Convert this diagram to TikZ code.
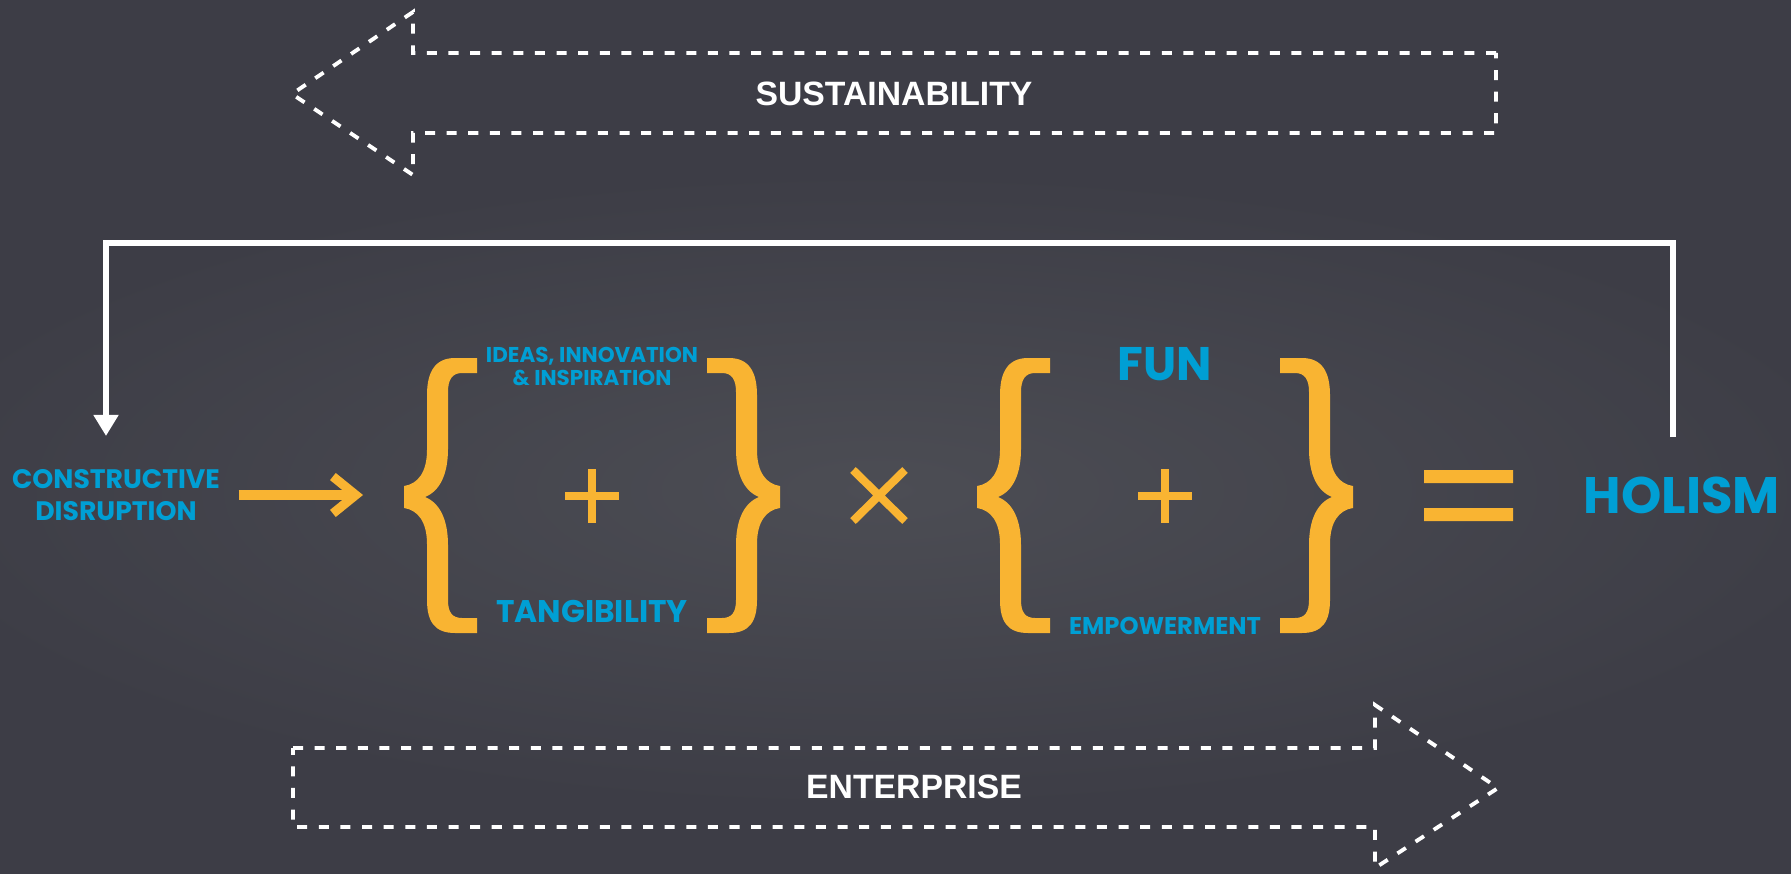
\documentclass[tikz,border=0pt]{standalone}
\usepackage{fontspec}
\usepackage{tikz}
\usetikzlibrary{positioning,arrows.meta}

\newfontfamily\labelfont{Liberation Sans}
\newfontfamily\termfont{Poppins}

\definecolor{bgdark}{RGB}{61,61,70}
\definecolor{bgglow}{RGB}{76,77,84}
\definecolor{termblue}{RGB}{0,159,212}
\definecolor{signorange}{RGB}{249,180,50}

\tikzset{
  flowarrow/.style={white, line width=1.1pt, dash pattern=on 2.85pt off 3.3pt, line join=miter},
  flowtext/.style={white, font=\labelfont\bfseries\fontsize{9.6}{11}\selectfont, anchor=base, inner sep=0pt},
  term/.style={termblue, font=\termfont\bfseries, anchor=base, inner sep=0pt, align=center},
  sign/.style={signorange, line width=2.3pt},
  feedback/.style={white, line width=1.7pt, -{Triangle[width=6.8pt,length=6pt]}},
  brace/.pic={
    \fill[signorange] (73,-139) -- (51,-139) .. controls (31,-139) and (23,-125) .. (23,-102)
      -- (23,-47) .. controls (23,-25) and (14,-13) .. (0,-11) -- (0,11)
      .. controls (14,13) and (23,25) .. (23,47) -- (23,103)
      .. controls (23,125) and (31,136) .. (51,136) -- (73,136) -- (73,121) -- (58,121)
      .. controls (48,121) and (44,115) .. (44,103) -- (44,48)
      .. controls (44,23) and (36,6) .. (21,0) .. controls (36,-6) and (44,-23) .. (44,-48)
      -- (44,-105) .. controls (44,-117) and (48,-124) .. (58,-124) -- (73,-124) -- cycle;
  }
}

\begin{document}
\begin{tikzpicture}[x=0.1mm, y=-0.1mm]
\useasboundingbox (0,0) rectangle (1791,874);
% background and glow
\begin{scope}
\clip (0,0) rectangle (1791,874);
\fill[bgdark] (0,0) rectangle (1791,874);
\shade[inner color=bgglow, outer color=bgdark] (880,490) ellipse [x radius=100mm, y radius=32mm];
\end{scope}

% sustainability / enterprise arrows
\draw[flowarrow] (1496,53) -- (413,53) -- (413,12) -- (292,94) -- (413,175) -- (413,133) -- (1496,133) -- cycle;
\draw[flowarrow] (293,748) -- (1375,748) -- (1375,705) -- (1498,788) -- (1375,868) -- (1375,827) -- (293,827) -- cycle;
\node[flowtext] (sust) at (894,106) {SUSTAINABILITY};
\node[flowtext] (ent) at (914,798) {ENTERPRISE};

% terms (base = last line)
\node[term, font=\termfont\bfseries\fontsize{7.6}{9.1}\selectfont] (disrupt) at (116,520) {CONSTRUCTIVE\\DISRUPTION};
\node[term, font=\termfont\bfseries\fontsize{6.1}{6.5}\selectfont] (ideas) at (592,385) {IDEAS, INNOVATION\\\& INSPIRATION};
\node[term, font=\termfont\bfseries\fontsize{8.9}{10}\selectfont] (tangible) at (592,622) {TANGIBILITY};
\node[term, font=\termfont\bfseries\fontsize{13.4}{15}\selectfont] (fun) at (1165,380) {FUN};
\node[term, font=\termfont\bfseries\fontsize{6.9}{8}\selectfont] (empower) at (1165,634) {EMPOWERMENT};
\node[term, font=\termfont\bfseries\fontsize{14.6}{16}\selectfont] (holism) at (1682,513) {HOLISM};

% braces
\pic at (404,497) {brace};
\pic[xscale=-1] at (780,497) {brace};
\pic at (977,497) {brace};
\pic[xscale=-1] at (1353,497) {brace};

% operators
\draw[sign] (565,496) -- (619,496) (592,469) -- (592,523);
\draw[sign] (1138,496) -- (1192,496) (1165,469) -- (1165,523);
\draw[sign] (853,470) -- (905,521) (853,521) -- (905,470);
\fill[signorange] (1424,470) rectangle (1513,483) (1424,508) rectangle (1513,521);

% input arrow
\coordinate (bracein) at (363,495);
\draw[signorange, line width=2.6pt, -{Straight Barb[length=6.5pt,width=10.5pt]}] (disrupt.east |- bracein) ++(18,0) -- (bracein);

% feedback loop
\coordinate (loopstart) at (1673,437);
\coordinate (loopend) at (106,436);
\draw[feedback] (loopstart) -- (1673,243) -| (loopend);
\end{tikzpicture}
\end{document}
